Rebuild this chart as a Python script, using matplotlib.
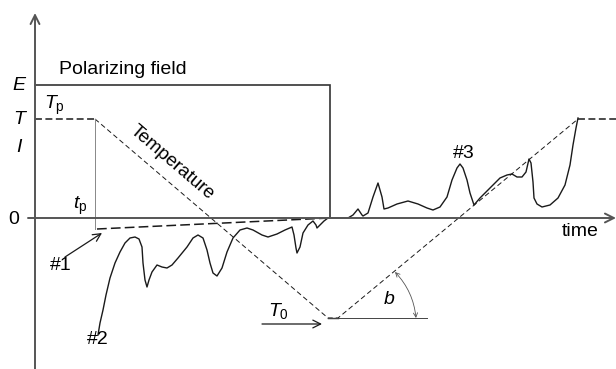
import matplotlib
matplotlib.use("Agg")
import matplotlib.pyplot as plt
from matplotlib.patches import FancyArrowPatch

plt.rcParams['font.family'] = ['Liberation Sans', 'DejaVu Sans']
plt.rcParams['mathtext.fontset'] = 'custom'
plt.rcParams['mathtext.rm'] = 'Liberation Sans'
plt.rcParams['mathtext.it'] = 'Liberation Sans:italic'
plt.rcParams['lines.scale_dashes'] = False

# levels (signal units, origin at the axis crossing)
E_LEVEL = 133
T_LEVEL = 99
I_LEVEL = 71
T0_LEVEL = -100

# time marks
t_p = 60          # end of polarization plateau
t_off = 295       # field switched off
t_low = [293, 303]  # cold plateau at T0
t_end = 543       # end of heating ramp
t_max = 581

# polarizing field
field_t = [0, t_off, t_off]
field_v = [E_LEVEL, E_LEVEL, 0]

# temperature program
temp_ramp_t = [t_p, t_low[0], t_low[0], t_low[1], t_end]
temp_ramp_v = [T_LEVEL, T0_LEVEL, T0_LEVEL, T0_LEVEL, T_LEVEL]

# curve #1 : polarization current (dashed)
cur1_t = [62, t_off]
cur1_v = [-11, 0]

# curve #2 : current during cooling
cur2_t = [63, 65, 68, 71, 75, 80, 85, 90, 95, 100, 104, 107, 108, 110, 112,
          114, 117, 122, 127, 132, 137, 143, 152, 158, 163, 168, 172, 175,
          178, 182, 187, 192, 198, 205, 212, 218, 227, 233, 242, 250, 257,
          259, 261, 262, 265, 268, 273, 278, 281, 282, 285, 289, 293, 295]
cur2_v = [-117, -105, -92, -77, -60, -45, -34, -25, -20, -19, -21, -29, -45,
          -62, -69, -62, -54, -47, -49, -50, -47, -40, -29, -20, -17, -20,
          -32, -45, -55, -58, -50, -34, -20, -12, -10, -12, -17, -19, -16,
          -12, -9, -17, -30, -35, -29, -15, -7, -3, -7, -10, -7, -3, 0, 0]

# curve #3 : depolarization current during heating
cur3_t = [295, 313, 318, 323, 327, 328, 333, 338, 343, 347, 349, 353, 362,
          373, 383, 392, 398, 405, 412, 417, 422, 425, 428, 432, 435, 439,
          445, 455, 465, 472, 477, 482, 487, 491, 494, 496, 498, 499, 502,
          507, 515, 523, 530, 535, 538, 541, 543]
cur3_v = [0, 0, 3, 9, 3, 2, 5, 21, 35, 21, 9, 10, 14, 17, 14, 10, 8, 11, 21,
          38, 50, 54, 50, 38, 25, 13, 20, 30, 40, 43, 44, 41, 41, 46, 59, 55,
          36, 20, 14, 11, 13, 20, 33, 53, 73, 90, 100]

AXIS_C = '#555555'
INK = '#1a1a1a'

fig = plt.figure(figsize=(6.16, 3.69), dpi=100)
ax = fig.add_axes([0, 0, 1, 1])
ax.set_xlim(-35, t_max)
ax.set_ylim(-151, 218)
ax.axis('off')

# axes with open arrow heads
ax.annotate('', xy=(0, 205), xytext=(0, -151),
            arrowprops=dict(arrowstyle='->', color=AXIS_C, lw=1.4,
                            mutation_scale=16, shrinkA=0, shrinkB=0))
ax.annotate('', xy=(t_max, 0), xytext=(-7, 0),
            arrowprops=dict(arrowstyle='->', color=AXIS_C, lw=1.4,
                            mutation_scale=16, shrinkA=0, shrinkB=0))

# polarizing field box
ax.plot(field_t, field_v, color='#333333', lw=1.2, solid_joinstyle='miter')

# temperature program
ax.plot([0, t_p], [T_LEVEL, T_LEVEL], color=INK, lw=1.1, ls=(0, (5, 2.5)))
ax.plot([t_end, t_max], [T_LEVEL, T_LEVEL], color=INK, lw=1.1, ls=(0, (5, 2.5)))
ax.plot(temp_ramp_t, temp_ramp_v, color=INK, lw=0.7, ls=(0, (3.6, 2.2)))
ax.plot(t_low, [T0_LEVEL, T0_LEVEL], color=INK, lw=1.0)
ax.plot([t_low[0], 392], [T0_LEVEL, T0_LEVEL], color='#444444', lw=0.7)

# t_p marker
ax.plot([t_p, t_p], [T_LEVEL, cur1_v[0]], color='#888888', lw=0.7)

# currents
ax.plot(cur1_t, cur1_v, color=INK, lw=1.1, ls=(0, (7, 3)))
ax.plot(cur2_t, cur2_v, color=INK, lw=1.0, solid_joinstyle='round')
ax.plot(cur3_t, cur3_v, color=INK, lw=1.0, solid_joinstyle='round')

# heating rate angle
arc = FancyArrowPatch((360, -54), (381, -100), connectionstyle='arc3,rad=-0.17',
                      arrowstyle='<->,head_length=3,head_width=1.5',
                      color='#555555', lw=0.6, shrinkA=0, shrinkB=0)
ax.add_patch(arc)

# labels
fs = 14
ax.text(-16, E_LEVEL - 1, 'E', fontsize=fs, style='italic', ha='center', va='center')
ax.text(-16, T_LEVEL - 1, 'T', fontsize=fs, style='italic', ha='center', va='center')
ax.text(-16, I_LEVEL, 'I', fontsize=fs, style='italic', ha='center', va='center')
ax.text(-21, -1, '0', fontsize=fs, ha='center', va='center')
ax.text(24, 148, 'Polarizing field', fontsize=fs, ha='left', va='center')
ax.text(19, 113, r'$T_{\mathrm{p}}$', fontsize=fs, ha='center', va='center')
ax.text(45, 12, r'$t_{\mathrm{p}}$', fontsize=fs, ha='center', va='center')
ax.text(137, 55, 'Temperature', fontsize=13.5, rotation=-40.5,
        rotation_mode='anchor', ha='center', va='center')
ax.text(243, -93, r'$T_0$', fontsize=fs, ha='center', va='center')
ax.text(354, -82, 'b', fontsize=fs, style='italic', ha='center', va='center')
ax.text(26, -48, '#1', fontsize=fs, ha='center', va='center')
ax.text(63, -122, '#2', fontsize=fs, ha='center', va='center')
ax.text(429, 65, '#3', fontsize=fs, ha='center', va='center')
ax.text(545, -14, 'time', fontsize=fs, ha='center', va='center')

# pointer arrows
ax.annotate('', xy=(67, -15), xytext=(30, -39),
            arrowprops=dict(arrowstyle='->', color=INK, lw=0.9,
                            mutation_scale=14, shrinkA=0, shrinkB=0))
ax.annotate('', xy=(287, -106), xytext=(227, -106),
            arrowprops=dict(arrowstyle='->', color=INK, lw=0.9,
                            mutation_scale=14, shrinkA=0, shrinkB=0))

fig.savefig('out.png', dpi=100)
